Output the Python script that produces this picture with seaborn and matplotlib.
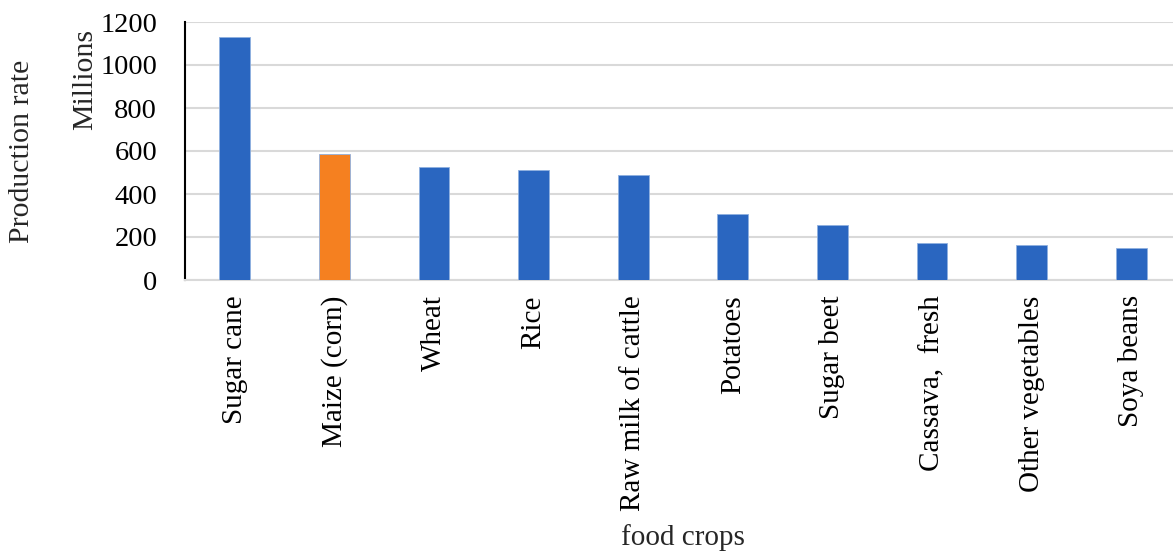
import matplotlib
matplotlib.use('Agg')
import matplotlib.pyplot as plt
import seaborn as sns
import pandas as pd

crops = ['Sugar cane', 'Maize (corn)', 'Wheat', 'Rice', 'Raw milk of cattle',
         'Potatoes', 'Sugar beet', 'Cassava,  fresh', 'Other vegetables', 'Soya beans']
production = [1130, 585, 525, 512, 488, 305, 255, 173, 165, 150]
highlight = 'Maize (corn)'

BLUE = '#2A66C0'
ORANGE = '#F58020'

sns.set_style('white')
plt.rcParams['font.family'] = ['Liberation Serif', 'DejaVu Serif']

df = pd.DataFrame({'crop': crops, 'value': production})
palette = {c: (ORANGE if c == highlight else BLUE) for c in crops}

fig = plt.figure(figsize=(11.73, 5.53), dpi=100)
ax = fig.add_axes([185 / 1173, 1 - 280 / 553, (1181 - 185) / 1173, (280 - 22) / 553])

sns.barplot(data=df, x='crop', y='value', hue='crop', palette=palette, legend=False,
            saturation=1, width=0.31, edgecolor='#8FB0E0', linewidth=0.6, ax=ax, zorder=3)

ax.set_ylim(0, 1200)
ax.set_yticks(range(0, 1201, 200))
ax.set_xlim(-0.5, len(crops) - 0.5)
ax.yaxis.grid(True, color='#D9D9D9', linewidth=1.5, zorder=0)
ax.set_axisbelow(True)

for s in ['top', 'right']:
    ax.spines[s].set_visible(False)
ax.spines['left'].set_color('black')
ax.spines['left'].set_linewidth(1.5)
ax.spines['bottom'].set_color('#D9D9D9')
ax.spines['bottom'].set_linewidth(1.5)

ax.tick_params(axis='both', length=0, colors='black')
ax.tick_params(axis='y', labelsize=20.5, pad=20)
ax.tick_params(axis='x', labelsize=21, pad=11)
plt.setp(ax.get_xticklabels(), rotation=90)

ax.set_xlabel('food crops', fontsize=21, va='center')
ax.xaxis.set_label_coords(0.5, (280 - 538) / 258)
ax.set_ylabel('Production rate', fontsize=21.5, va='center')
ax.yaxis.set_label_coords((22 - 185) / 996, 0.5)
fig.text(85 / 1173, 1 - 79 / 553, 'Millions', rotation=90, fontsize=21.5,
         ha='center', va='center')

fig.savefig('out.png', dpi=100, facecolor='white')
